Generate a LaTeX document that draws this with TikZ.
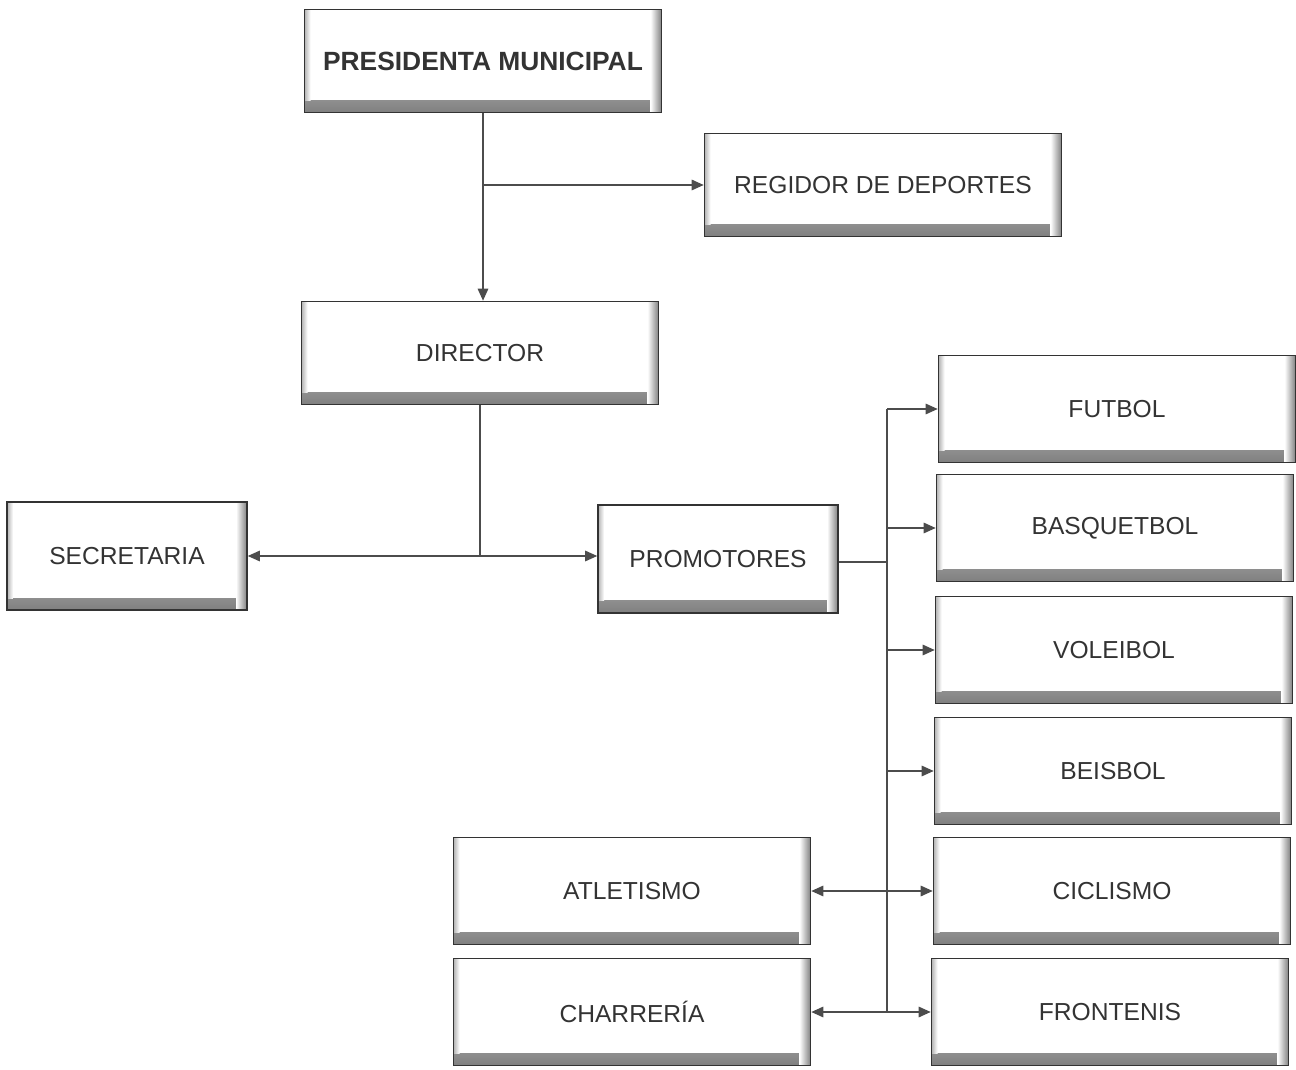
\documentclass[tikz,border=0pt]{standalone}
\usepackage{fontspec}
\setmainfont{Liberation Sans}
\usepackage{tikz}
\usetikzlibrary{calc,arrows.meta}
\tikzset{
    cargo/.style={
        draw=black!80,
        line width=0.9pt,
        fill=white,
        minimum width=7.14cm,
        minimum height=2.06cm,
        text=black!80,
        font=\fontsize{14}{16}\selectfont,
        path picture={
            \shade[top color=white,bottom color=black!50]
                ($(path picture bounding box.south west)+(0,0.24)$) rectangle (path picture bounding box.south east);
            \shade[left color=white,right color=black!50]
                ($(path picture bounding box.north east)+(-0.22,0)$) rectangle (path picture bounding box.south east);
            \shade[left color=black!30,right color=white]
                (path picture bounding box.north west) rectangle ($(path picture bounding box.south west)+(0.12,0.24)$);
        }
    },
    cargochico/.style={
        cargo,
        minimum width=4.8cm,
        minimum height=2.16cm
    },
    deporte/.style={
        cargo,
        minimum height=2.14cm
    },
    flecha/.style={
        draw=black!70,
        line width=0.8pt,
        -{Triangle[length=2.4mm,width=2.1mm]}
    },
    linea/.style={
        draw=black!70,
        line width=0.8pt
    }
}

\begin{document}
\begin{tikzpicture}

    \useasboundingbox (0,0) rectangle (25.92,-21.4);

    %% Presidencia
    \node (PM) [cargo,font=\fontsize{15}{17}\selectfont\bfseries] at (9.66,-1.22) {PRESIDENTA MUNICIPAL};
    \node (RD) [cargo] at (17.66,-3.7) {REGIDOR DE DEPORTES};
    \node (DI) [cargo] at (9.6,-7.06) {DIRECTOR};

    \coordinate (c1) at (PM.south |- RD.west);
    \draw[flecha] (PM.south) -- (PM.south |- DI.north);
    \draw[flecha] (c1) -- (RD.west);

    %% Direccion
    \node (SE) [cargochico] at (2.54,-11.12) {SECRETARIA};
    \node (PR) [cargochico] at (14.36,-11.18) {PROMOTORES};

    \coordinate (c2) at (DI.south |- SE.east);
    \draw[linea] (DI.south) -- (c2);
    \draw[flecha] (c2) -- (SE.east);
    \draw[flecha] (c2) -- (PR.west |- c2);

    %% Deportes
    \node (FU) [deporte] at (22.34,-8.18) {FUTBOL};
    \node (BA) [deporte] at (22.3,-10.56) {BASQUETBOL};
    \node (VO) [deporte] at (22.28,-13.0) {VOLEIBOL};
    \node (BE) [deporte] at (22.26,-15.42) {BEISBOL};
    \node (CI) [deporte] at (22.24,-17.82) {CICLISMO};
    \node (FR) [deporte] at (22.2,-20.24) {FRONTENIS};
    \node (AT) [deporte] at (12.64,-17.82) {ATLETISMO};
    \node (CH) [deporte] at (12.64,-20.24) {CHARRERÍA};

    \coordinate (t0) at (17.74,-11.24);
    \coordinate (t1) at (t0 |- FU.west);
    \coordinate (t6) at (t0 |- FR.west);
    \draw[linea] (PR.east |- t0) -- (t0);
    \draw[linea] (t1) -- (t6);
    \foreach \d in {FU,BA,VO,BE,CI,FR}
        \draw[flecha] (t0 |- \d.west) -- (\d.west);
    \draw[flecha] (t0 |- AT.east) -- (AT.east);
    \draw[flecha] (t0 |- CH.east) -- (CH.east);

\end{tikzpicture}
\end{document}
